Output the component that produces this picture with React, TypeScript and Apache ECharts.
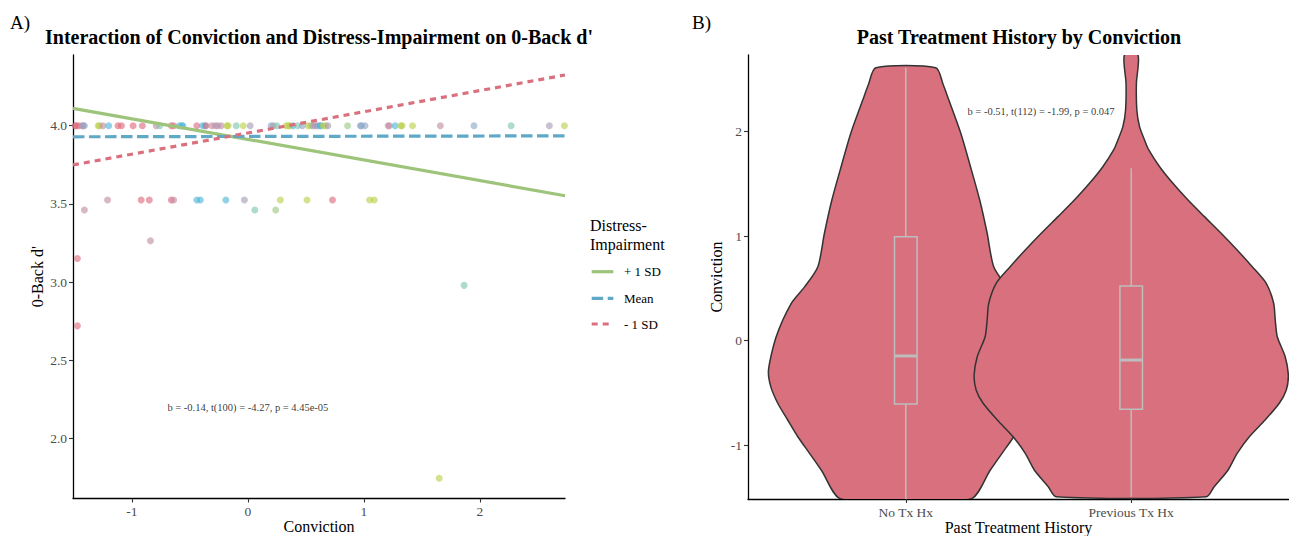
import React, { useEffect, useRef } from "react";
import * as echarts from "echarts";

const FONT = "'Liberation Serif', 'Times New Roman', serif";

// ---------- Panel A data ----------
const xTicksA = [-1, 0, 1, 2];
const yTicksA = [2.0, 2.5, 3.0, 3.5, 4.0];
const lineX = [-1.508, 2.735];
const plusSD = [4.111, 3.552];
const meanLine = [3.929, 3.935];
const minusSD = [3.749, 4.324];
const legendLabels = ["+ 1 SD", "Mean", "- 1 SD"];
const legendTitle = ["Distress-", "Impairment"];
const statA = "b = -0.14, t(100) = -4.27, p = 4.45e-05";

const palette = ["#DD6B7D", "#C28CA3", "#A899B8", "#8BA6C6", "#4DB6DB", "#7BC6AF", "#99C784", "#B9CF47"];

const pointX = [
  -1.49, -1.48, -1.46, -1.43, -1.42, -1.41, -1.29, -1.28, -1.25, -1.2, -1.12, -1.09, -0.99, -0.91, -0.79, -0.76,
  -0.66, -0.64, -0.59, -0.57, -0.56, -0.44, -0.39, -0.37, -0.36, -0.31, -0.28, -0.26, -0.23, -0.18, -0.17, -0.1,
  -0.04, 0.02, 0.2, 0.22, 0.25, 0.33, 0.35, 0.36, 0.39, 0.43, 0.47, 0.52, 0.54, 0.56, 0.58, 0.6, 0.62, 0.63, 0.65,
  0.67, 0.69, 0.86, 0.97, 0.98, 1.01, 1.21, 1.22, 1.27, 1.32, 1.33, 1.42, 1.66, 1.95, 2.27, 2.6, 2.73,
  -1.21, -0.92, -0.85, -0.66, -0.64, -0.44, -0.41, -0.19, -0.03, 0.28, 0.51, 0.73, 1.05, 1.09,
  -1.41, 0.06, 0.24,
  -0.84, -1.47, -1.47, 1.865, 1.65,
];
const pointY = [
  4, 4, 4, 4, 4, 4, 4, 4, 4, 4, 4, 4, 4, 4, 4, 4,
  4, 4, 4, 4, 4, 4, 4, 4, 4, 4, 4, 4, 4, 4, 4, 4,
  4, 4, 4, 4, 4, 4, 4, 4, 4, 4, 4, 4, 4, 4, 4, 4, 4, 4, 4,
  4, 4, 4, 4, 4, 4, 4, 4, 4, 4, 4, 4, 4, 4, 4, 4, 4,
  3.525, 3.525, 3.525, 3.525, 3.525, 3.525, 3.525, 3.525, 3.525, 3.525, 3.525, 3.525, 3.525, 3.525,
  3.461, 3.461, 3.461,
  3.264, 3.151, 2.72, 2.979, 1.745,
];
const pointGroup = [
  0, 0, 0, 1, 2, 3, 7, 7, 1, 4, 0, 0, 0, 0, 1, 5,
  0, 0, 4, 4, 4, 0, 4, 4, 0, 1, 1, 2, 1, 7, 7, 5,
  7, 2, 3, 2, 5, 7, 7, 7, 4, 5, 3, 7, 7, 3, 1, 2, 4, 4, 7,
  7, 2, 6, 3, 3, 3, 1, 1, 4, 7, 7, 7, 1, 3, 5, 2, 7,
  1, 0, 0, 0, 1, 4, 4, 4, 2, 7, 7, 0, 7, 7,
  1, 5, 6,
  1, 0, 0, 5, 7,
];

// ---------- Panel B data ----------
const violinCats = ["No Tx Hx", "Previous Tx Hx"];
const yTicksB = [-1, 0, 1, 2];
const statB = "b = -0.51, t(112) = -1.99, p = 0.047";
const noTxY = [2.612, 2.456, 2.303, 1.985, 1.665, 1.346, 1.028, 0.708, 0.517, 0.358, 0.038, -0.28, -0.44, -0.599, -0.759, -0.919, -1.078, -1.237, -1.515];
const noTxHW = [0.133, 0.165, 0.191, 0.244, 0.287, 0.328, 0.361, 0.39, 0.448, 0.508, 0.575, 0.609, 0.599, 0.568, 0.524, 0.479, 0.427, 0.375, 0.287];
const prevY = [2.734, 2.463, 2.208, 2.048, 1.921, 1.825, 1.665, 1.506, 1.346, 1.187, 1.028, 0.868, 0.708, 0.549, 0.358, 0.198, 0.038, -0.153, -0.328, -0.472, -0.599, -0.759, -0.919, -1.078, -1.237, -1.397, -1.493];
const prevHW = [0.03, 0.023, 0.025, 0.037, 0.059, 0.078, 0.126, 0.185, 0.252, 0.325, 0.399, 0.47, 0.537, 0.599, 0.632, 0.639, 0.648, 0.683, 0.697, 0.688, 0.657, 0.594, 0.524, 0.47, 0.43, 0.368, 0.333];
const boxLo = [-1.515, -1.493];
const boxQ1 = [-0.606, -0.657];
const boxMed = [-0.146, -0.185];
const boxQ3 = [0.995, 0.523];
const boxHi = [2.612, 1.65];

const violinY = [noTxY, prevY];
const violinHW = [noTxHW, prevHW];

const axisCommon = {
  axisLine: { show: true, onZero: false, lineStyle: { color: "#000", width: 1.3 } },
  axisTick: { show: true, inside: false, length: 4, lineStyle: { color: "#333", width: 1.1 } },
  splitLine: { show: false },
  nameMoveOverlap: false,
  nameTextStyle: { fontFamily: FONT, fontSize: 16, color: "#000" },
};
const labelCommon = { fontFamily: FONT, fontSize: 13.5, color: "#4D4D4D" };

export default function App() {
  const ref = useRef<HTMLDivElement>(null);
  useEffect(() => {
    if (!ref.current) return;
    const chart = echarts.init(ref.current, undefined, { renderer: "svg" });

    const scatterData = pointX.map((x, i) => ({
      value: [x, pointY[i]],
      itemStyle: { color: palette[pointGroup[i]], opacity: 0.62 },
    }));

    const lineSeries = [
      { name: legendLabels[0], vals: plusSD, color: "#9DC47A", dash: "solid" as any },
      { name: legendLabels[1], vals: meanLine, color: "#5FA8C6", dash: [11.5, 4.5] },
      { name: legendLabels[2], vals: minusSD, color: "#D9707E", dash: [6, 5] },
    ].map((l) => ({
      type: "line",
      name: l.name,
      xAxisIndex: 0,
      yAxisIndex: 0,
      data: lineX.map((x, i) => [x, l.vals[i]]),
      showSymbol: false,
      symbol: "none",
      lineStyle: { color: l.color, width: 3.2, type: l.dash },
      z: 3,
    }));

    const legendColors = ["#9DC47A", "#5FA8C6", "#D9707E"];
    const legendDash: any[] = [null, [11.5, 4.5], [6, 5]];
    const legendY = [271.7, 298.3, 324];

    const txt = (text: string, x: number, y: number, size: number, extra: any = {}) => ({
      type: "text",
      style: {
        text, x, y, fontFamily: FONT, fontSize: size, fill: "#000",
        verticalAlign: "middle", textVerticalAlign: "middle", ...extra,
      },
    });

    const graphic: any[] = [
      txt("A)", 10, 22, 19),
      txt("B)", 692, 22, 19),
      txt("Interaction of Conviction and Distress-Impairment on 0-Back d'", 319, 37, 20, { fontWeight: "bold", align: "center", textAlign: "center" }),
      txt("Past Treatment History by Conviction", 1019, 37, 20, { fontWeight: "bold", align: "center", textAlign: "center" }),
      txt(legendTitle[0], 590, 225, 16),
      txt(legendTitle[1], 590, 244, 16),
    ];
    legendLabels.forEach((lab, i) => {
      graphic.push({
        type: "line",
        shape: { x1: 591.7, y1: legendY[i], x2: 613.3, y2: legendY[i] },
        style: { stroke: legendColors[i], lineWidth: 3.2, lineDash: legendDash[i] || undefined },
      });
      graphic.push(txt(lab, 624, legendY[i], 13));
    });

    const violinSeries = {
      type: "custom",
      xAxisIndex: 1,
      yAxisIndex: 1,
      clip: true,
      data: violinCats.map((_, i) => [i + 1]),
      renderItem: (params: any, api: any) => {
        const i = params.dataIndex;
        const c = i + 1;
        const ys = violinY[i];
        const hw = violinHW[i];
        const right: number[][] = [];
        const left: number[][] = [];
        for (let k = 0; k < ys.length; k++) right.push(api.coord([c + hw[k], ys[k]]));
        for (let k = ys.length - 1; k >= 0; k--) left.push(api.coord([c - hw[k], ys[k]]));
        return {
          type: "group",
          children: [
            {
              type: "polygon",
              shape: { points: right.concat(left), smooth: 0.25 },
              style: { fill: "#D9707E", stroke: "#333333", lineWidth: 1.5 },
            },
          ],
        };
      },
      z: 2,
    };

    const boxSeries = {
      type: "custom",
      xAxisIndex: 1,
      yAxisIndex: 1,
      clip: true,
      data: violinCats.map((_, i) => [i + 1]),
      renderItem: (params: any, api: any) => {
        const i = params.dataIndex;
        const c = i + 1;
        const bw = 0.05;
        const lo = api.coord([c, boxLo[i]]);
        const q1 = api.coord([c, boxQ1[i]]);
        const q3 = api.coord([c, boxQ3[i]]);
        const hi = api.coord([c, boxHi[i]]);
        const left = api.coord([c - bw, boxMed[i]]);
        const right = api.coord([c + bw, boxMed[i]]);
        const stroke = "#BDBDBD";
        return {
          type: "group",
          children: [
            { type: "line", shape: { x1: hi[0], y1: hi[1], x2: q3[0], y2: q3[1] }, style: { stroke, lineWidth: 1.5 } },
            { type: "line", shape: { x1: q1[0], y1: q1[1], x2: lo[0], y2: lo[1] }, style: { stroke, lineWidth: 1.5 } },
            { type: "rect", shape: { x: left[0], y: q3[1], width: right[0] - left[0], height: q1[1] - q3[1] }, style: { fill: "none", stroke, lineWidth: 1.5 } },
            { type: "line", shape: { x1: left[0], y1: left[1], x2: right[0], y2: right[1] }, style: { stroke, lineWidth: 3 } },
          ],
        };
      },
      z: 3,
    };

    const annot = (xi: number, pt: number[], text: string) => ({
      type: "scatter",
      xAxisIndex: xi,
      yAxisIndex: xi,
      symbolSize: 1,
      itemStyle: { color: "rgba(0,0,0,0)" },
      data: [pt],
      label: { show: true, position: "inside", formatter: text, fontFamily: FONT, fontSize: 10.5, color: "#000" },
      z: 6,
      silent: true,
    });

    const option: any = {
      animation: false,
      backgroundColor: "#fff",
      grid: [
        { left: 73, top: 55, width: 492, height: 443.5, containLabel: false, outerBoundsMode: "none" },
        { left: 748, top: 55, width: 541, height: 444, containLabel: false, outerBoundsMode: "none" },
      ],
      xAxis: [
        {
          ...axisCommon,
          type: "value",
          gridIndex: 0,
          min: lineX[0],
          max: lineX[1],
          name: "Conviction",
          nameLocation: "middle",
          nameGap: 20,
          axisLabel: { ...labelCommon, margin: 6, customValues: xTicksA, formatter: (v: number) => String(Math.round(v)) },
          axisTick: { ...axisCommon.axisTick, customValues: xTicksA },
        },
        {
          ...axisCommon,
          type: "value",
          gridIndex: 1,
          min: 0.3,
          max: 2.7,
          name: "Past Treatment History",
          nameLocation: "middle",
          nameGap: 20,
          axisLabel: { ...labelCommon, margin: 6, customValues: [1, 2], formatter: (v: number) => violinCats[Math.round(v) - 1] || "" },
          axisTick: { ...axisCommon.axisTick, customValues: [1, 2] },
        },
      ],
      yAxis: [
        {
          ...axisCommon,
          type: "value",
          gridIndex: 0,
          min: 1.616,
          max: 4.452,
          name: "0-Back d'",
          nameLocation: "middle",
          nameGap: 28,
          axisLabel: { ...labelCommon, margin: 6, customValues: yTicksA, formatter: (v: number) => v.toFixed(1) },
          axisTick: { ...axisCommon.axisTick, customValues: yTicksA },
        },
        {
          ...axisCommon,
          type: "value",
          gridIndex: 1,
          min: -1.515,
          max: 2.734,
          name: "Conviction",
          nameLocation: "middle",
          nameGap: 24,
          axisLabel: { ...labelCommon, margin: 6, customValues: yTicksB, formatter: (v: number) => String(Math.round(v)) },
          axisTick: { ...axisCommon.axisTick, customValues: yTicksB },
        },
      ],
      series: [
        {
          type: "scatter",
          xAxisIndex: 0,
          yAxisIndex: 0,
          symbolSize: 7,
          data: scatterData,
          z: 2,
        },
        ...lineSeries,
        annot(0, [0, 2.2], statA),
        violinSeries,
        boxSeries,
        annot(1, [1.6, 2.191], statB),
      ],
      graphic,
    };
    chart.setOption(option);
    return () => chart.dispose();
  }, []);

  return (
    <div
      ref={ref}
      style={{ position: "fixed", left: 0, top: 0, width: 1289, height: 536, background: "#fff" }}
    />
  );
}
